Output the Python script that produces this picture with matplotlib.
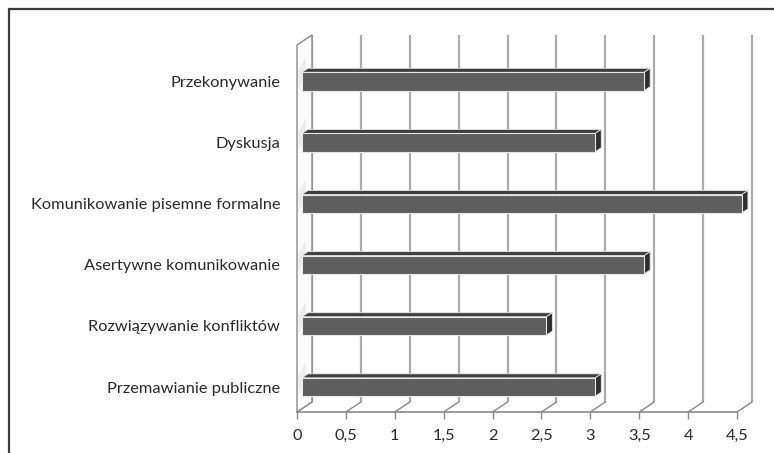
import matplotlib.pyplot as plt
from matplotlib.patches import Polygon, Rectangle
import numpy as np

# Skills and mean scores
categories = ['Przemawianie publiczne', 'Rozwiązywanie konfliktów', 'Asertywne komunikowanie',
              'Komunikowanie pisemne formalne', 'Dyskusja', 'Przekonywanie']
values = [3.0, 2.5, 3.5, 4.5, 3.0, 3.5]
xticks = [0, 0.5, 1, 1.5, 2, 2.5, 3, 3.5, 4, 4.5]
xticklabels = ['0', '0,5', '1', '1,5', '2', '2,5', '3', '3,5', '4', '4,5']

plt.rcParams['font.family'] = ['Lato', 'DejaVu Sans']

W, H = 774, 453
fig = plt.figure(figsize=(W / 100, H / 100), dpi=100)
fig.patch.set_facecolor('white')

# Axes box = front plane of the 3D plot area (pixels 297..737 wide, 45..412 tall)
ax = fig.add_axes([297 / W, 1 - 412 / H, 440 / W, 367 / H])
ymin, ymax = -0.409, 5.597
ax.set_xlim(0, 4.5)
ax.set_ylim(ymin, ymax)
ax.patch.set_alpha(0)
for s in ax.spines.values():
    s.set_visible(False)

# depth vector of the walls in data units
DX, DY = 15 / 97.78, 10 / 61.1
grid_c = '#ababab'
edge_c = '#8a8a8a'

# back wall gridlines
for t in xticks:
    ax.plot([t + DX, t + DX], [ymin + DY, ymax + DY], color=grid_c, lw=1.6,
            clip_on=False, zorder=1, solid_capstyle='butt')
    # floor diagonals
    ax.plot([t, t + DX], [ymin, ymin + DY], color=edge_c, lw=1.0, clip_on=False, zorder=2)

# left wall
wall = Polygon([[0, ymin], [0, ymax], [DX, ymax + DY], [DX, ymin + DY]], closed=True,
               facecolor='#fbfbfb', edgecolor=edge_c, lw=1.0, clip_on=False, zorder=2)
ax.add_patch(wall)
# front floor edge
ax.plot([0, 4.5], [ymin, ymin], color=edge_c, lw=1.2, clip_on=False, zorder=3)

# 3D bars
t0, td = 0.33, 0.4
bx, bdx, bdy = t0 * DX, td * DX, td * DY
hh = 0.15
for i, v in enumerate(values):
    x0, x1 = bx, v + bx
    # faint reflection on the wall
    ax.add_patch(Polygon([[0.01, i + hh + 0.02], [DX * 0.6, i + hh + 0.25],
                          [DX * 0.6, i + hh + 0.05], [0.01, i - hh]],
                         closed=True, facecolor='#dcdcdc', edgecolor='none',
                         alpha=0.45, clip_on=False, zorder=3))
    top = Polygon([[x0, i + hh], [x1, i + hh], [x1 + bdx, i + hh + bdy], [x0 + bdx, i + hh + bdy]],
                  closed=True, facecolor='#3e3e3e', edgecolor='#e6e6e6', lw=0.6,
                  clip_on=False, zorder=4)
    side = Polygon([[x1, i - hh], [x1, i + hh], [x1 + bdx, i + hh + bdy], [x1 + bdx, i - hh + bdy]],
                   closed=True, facecolor='#2f2f2f', edgecolor='#e6e6e6', lw=0.6,
                   clip_on=False, zorder=4)
    front = Rectangle((x0, i - hh), v, 2 * hh, facecolor='#5e5e5e', edgecolor='#e6e6e6',
                      lw=0.8, clip_on=False, zorder=5)
    ax.add_patch(top)
    ax.add_patch(side)
    ax.add_patch(front)

# axis labels
ax.set_xticks(xticks)
ax.set_xticklabels(xticklabels, fontsize=11.8, color='#2a2a2a')
ax.tick_params(axis='x', direction='out', length=5, width=1.0, color=edge_c, pad=7)
ax.set_yticks(range(len(categories)))
ax.set_yticklabels(categories, fontsize=11.8, color='#2a2a2a')
ax.tick_params(axis='y', length=0, pad=12)

# chart border
fig.patches.append(Rectangle((9 / W, -0.1), 1.2, 1.1 - 9 / H, transform=fig.transFigure,
                             facecolor='none', edgecolor='#3a3a3a', lw=1.6))

fig.savefig('out.png', dpi=100)
